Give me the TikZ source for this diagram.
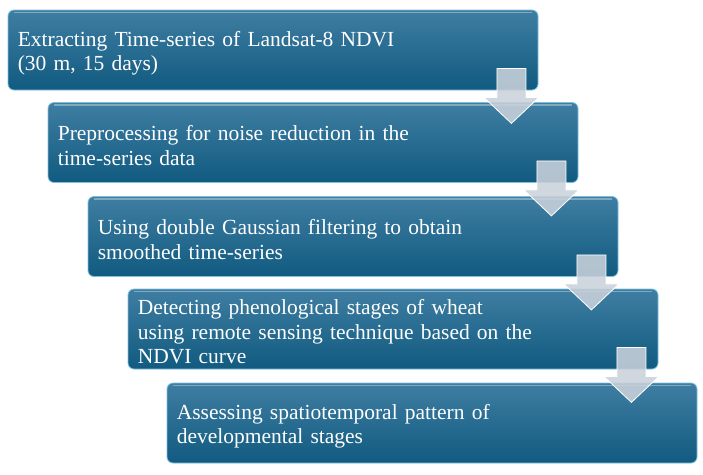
\documentclass[tikz,border=0pt]{standalone}
\usepackage{fontspec}
\setmainfont{Liberation Serif}
\definecolor{boxtop}{HTML}{3F7EA2}
\definecolor{boxmid}{HTML}{1B6088}
\definecolor{boxbot}{HTML}{115A80}
\definecolor{boxedge}{HTML}{7CC0E0}
\definecolor{arrowgray}{HTML}{C9D1DA}
\begin{document}
\begin{tikzpicture}[x=1pt,y=-1pt,
  stagebox/.style={rectangle, rounded corners=6pt,
    minimum width=530pt, minimum height=80pt, inner sep=0pt,
    top color=boxtop, middle color=boxmid, bottom color=boxbot,
    draw=boxedge, line width=0.8pt,
    path picture={
      \draw[white, opacity=0.35, line width=1.5pt]
        ([xshift=6pt,yshift=-2.5pt]path picture bounding box.north west) --
        ([xshift=-6pt,yshift=-2.5pt]path picture bounding box.north east);
    }},
  stagetext/.style={anchor=west, xshift=10pt, yshift=-3pt,
    text width=510pt, inner sep=0pt, align=left, text=white,
    font=\fontsize{21.5}{24.5}\selectfont},
  arrowfill/.style={fill=arrowgray, fill opacity=0.88, draw=white, line width=0.8pt, line join=miter},
  flowarrow/.pic={
    \path[arrowfill] (-14.5,-22) -- (14.5,-22) -- (14.5,7) -- (27.5,7)
      -- (0,33) -- (-27.5,7) -- (-14.5,7) -- cycle;
  }]
\useasboundingbox (0,0) rectangle (703,474);

% the five processing stages, stepping down to the right
\node[stagebox] (s1) at (273,50) {};
\node[stagebox] (s2) at (313,142.5) {};
\node[stagebox] (s3) at (353,236.5) {};
\node[stagebox] (s4) at (393,329) {};
\node[stagebox] (s5) at (432,423) {};

\node[stagetext] (t1) at (s1.west)
  {Extracting Time-series of Landsat-8 NDVI\\(30 m, 15 days)};
\node[stagetext] (t2) at (s2.west)
  {Preprocessing for noise reduction in the\\time-series data};
\node[stagetext] (t3) at (s3.west)
  {Using double Gaussian filtering to obtain\\smoothed time-series};
\node[stagetext] (t4) at (s4.west)
  {Detecting phenological stages of wheat\\using remote sensing technique based on the\\NDVI curve};
\node[stagetext] (t5) at (s5.west)
  {Assessing spatiotemporal pattern of\\developmental stages};

% block arrows linking consecutive stages
\foreach \n in {1,...,4}{
  \coordinate (a\n) at ([xshift=-27pt]s\n.south east);
  \pic at (a\n) {flowarrow};
}
\end{tikzpicture}
\end{document}
